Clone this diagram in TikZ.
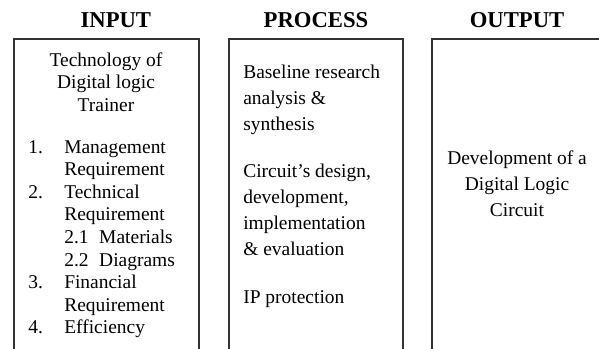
\documentclass[tikz,border=0pt]{standalone}
\usepackage{fontspec}
\setmainfont{Liberation Serif}
\usetikzlibrary{positioning}

\begin{document}
\begin{tikzpicture}[x=0.75pt,y=-0.75pt,
  panel/.style={rectangle, draw=black!80, line width=1pt, outer sep=0pt, anchor=north west, minimum height=240pt},
  heading/.style={inner sep=0pt, font=\fontsize{17}{20}\selectfont\bfseries},
  body/.style={inner sep=0pt, font=\fontsize{14.6}{16.9}\selectfont},
  widebody/.style={inner sep=0pt, font=\fontsize{14.6}{19.4}\selectfont}]
\useasboundingbox (0,0) rectangle (599,349);

\node (inbox) [panel, minimum width=138.75pt] at (14,39) {};
\node (procbox) [panel, minimum width=130.5pt] at (229,39) {};
\node (outbox) [panel, minimum width=127.5pt] at (432,39) {};

\node (inhead) [heading, above=8pt of inbox.north, xshift=7pt] {INPUT};
\node (prochead) [heading, above=8pt of procbox.north] {PROCESS};
\node (outhead) [heading, above=8pt of outbox.north] {OUTPUT};

\node (intitle) [body, align=center] at (106,82) {Technology of\\Digital logic\\Trainer};

\node (inlist) [body, anchor=west] at (28,239) {\begin{tabular}{@{}p{27pt}@{}l@{}}
1. & Management\\
   & Requirement\\
2. & Technical\\
   & Requirement\\
   & 2.1\hspace{8pt}Materials\\
   & 2.2\hspace{8pt}Diagrams\\
3. & Financial\\
   & Requirement\\
4. & Efficiency
\end{tabular}};

\node (proctext) [widebody, anchor=west] at (243,186) {\begin{tabular}{@{}l@{}}
Baseline research\\
analysis \&\\
synthesis\\[16pt]
Circuit’s design,\\
development,\\
implementation\\
\& evaluation\\[17pt]
IP protection
\end{tabular}};

\node (outtext) [widebody, align=center] at (517,184) {Development of a\\Digital Logic\\Circuit};

\end{tikzpicture}
\end{document}
